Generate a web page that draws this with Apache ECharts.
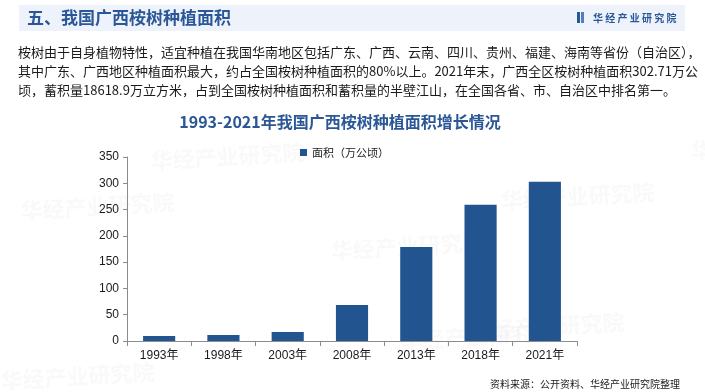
<!DOCTYPE html>
<html><head><meta charset="utf-8">
<script src="https://cdn.jsdelivr.net/npm/echarts@6/dist/echarts.min.js"></script>
<style>html,body{margin:0;padding:0;background:#fff}#c{width:705px;height:392px}</style>
</head><body><div id="c"></div>
<script>
var categories = ['1993年','1998年','2003年','2008年','2013年','2018年','2021年'];
var areaValues = [9.5, 11.4, 17.2, 68.6, 178.6, 259.2, 302.71];
var seriesName = '面积（万公顷）';
var yTicks = [0, 50, 100, 150, 200, 250, 300, 350];
var headerTitle = '五、我国广西桉树种植面积';
var chartTitle = '1993-2021年我国广西桉树种植面积增长情况';
var paragraph = [
  '桉树由于自身植物特性，适宜种植在我国华南地区包括广东、广西、云南、四川、贵州、福建、海南等省份（自治区），',
  '其中广东、广西地区种植面积最大，约占全国桉树种植面积的80%以上。2021年末，广西全区桉树种植面积302.71万公',
  '顷，蓄积量18618.9万立方米，占到全国桉树种植面积和蓄积量的半壁江山，在全国各省、市、自治区中排名第一。'
];
var sourceText = '资料来源：公开资料、华经产业研究院整理';
var brand = '华 经 产 业 研 究 院';

var CJK = '"Noto Sans CJK SC", "Noto Sans", sans-serif';
var NUM = '"Liberation Sans", "Noto Sans CJK SC", sans-serif';
var blue = '#22548f';

var wm = [];
[[330,240],[500,190],[20,200],[400,330],[0,370],[690,140],[150,150],[470,320]].forEach(function(p){
  wm.push({type:'text', x:p[0], y:p[1], rotation:0.06, z:0, silent:true,
    style:{text:'华经产业研究院', font:'bold 22px '+CJK, fill:'rgba(150,160,175,0.06)'}});
});

var graphic = wm.concat([
  {type:'rect', shape:{x:19,y:5,width:666,height:26}, style:{fill:'#eef3fb'}, z:1},
  {type:'text', x:27, y:18, z:2, style:{text:headerTitle, font:'bold 17px '+CJK, fill:'#2b5797', verticalAlign:'middle'}},
  {type:'rect', shape:{x:577,y:12,width:3,height:11}, style:{fill:'#2b5797'}, z:2},
  {type:'rect', shape:{x:581,y:12,width:3,height:11}, style:{fill:'#4f7fc0'}, z:2},
  {type:'text', x:593, y:18, z:2, style:{text:brand, font:'bold 10px '+CJK, fill:'#2b5797', verticalAlign:'middle'}},
  {type:'text', x:18, y:52, z:2, style:{text:paragraph[0], font:'13px '+CJK, fill:'#1a1a1a', verticalAlign:'middle'}},
  {type:'text', x:18, y:71, z:2, style:{text:paragraph[1], font:'13px '+CJK, fill:'#1a1a1a', verticalAlign:'middle'}},
  {type:'text', x:18, y:90, z:2, style:{text:paragraph[2], font:'13px '+CJK, fill:'#1a1a1a', verticalAlign:'middle'}},
  {type:'text', x:340, y:122, z:2, style:{text:chartTitle, font:'bold 16px '+CJK, fill:'#2b5797', align:'center', verticalAlign:'middle'}},
  {type:'text', x:680, y:384, z:2, style:{text:sourceText, font:'10px '+CJK, fill:'#1a1a1a', align:'right', verticalAlign:'middle'}}
]);

var chart = echarts.init(document.getElementById('c'), null, {renderer:'canvas'});
chart.setOption({
  animation:false,
  backgroundColor:'#fff',
  graphic: graphic,
  legend:{
    data:[seriesName], top:142, left:295, itemWidth:7, itemHeight:7, itemGap:4,
    icon:'rect', textStyle:{fontFamily:CJK, fontSize:11, color:'#1a1a1a'}
  },
  grid:{left:127, right:128, top:157, bottom:51, containLabel:false},
  xAxis:{
    type:'category', data:categories,
    axisLine:{lineStyle:{color:'#8c8c8c'}},
    axisTick:{show:true, alignWithLabel:false, length:5, lineStyle:{color:'#8c8c8c'}},
    axisLabel:{fontFamily:NUM, fontSize:12, color:'#1a1a1a', margin:9}
  },
  yAxis:{
    type:'value', min:yTicks[0], max:yTicks[yTicks.length-1], interval:50,
    axisLine:{show:true, lineStyle:{color:'#8c8c8c'}},
    axisTick:{show:true, length:4, lineStyle:{color:'#8c8c8c'}},
    splitLine:{show:false},
    axisLabel:{fontFamily:NUM, fontSize:12, color:'#1a1a1a', margin:8}
  },
  series:[{
    name:seriesName, type:'bar', data:areaValues, barWidth:'50%',
    itemStyle:{color:blue}
  }]
});
</script></body></html>
